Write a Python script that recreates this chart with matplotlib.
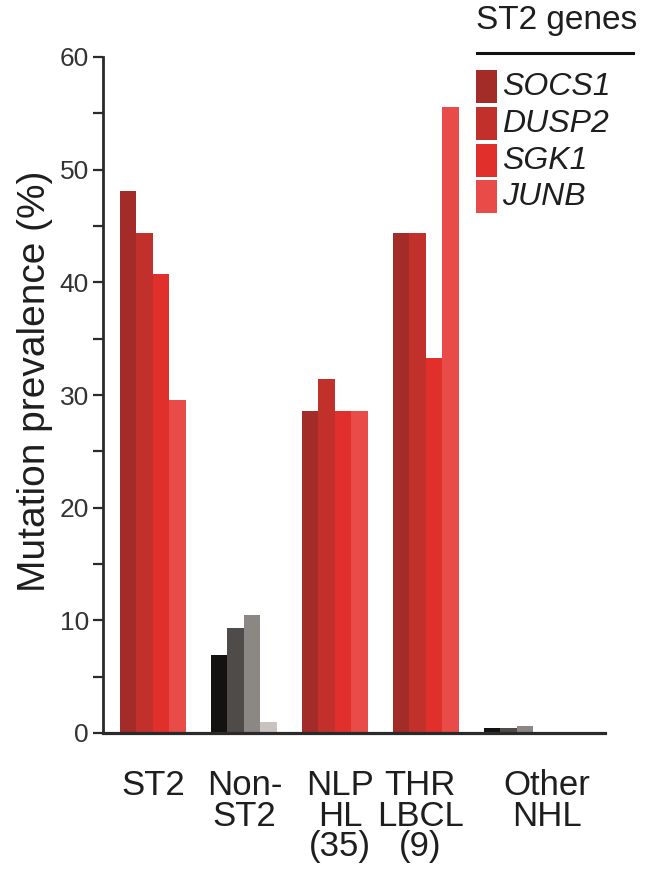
import matplotlib
matplotlib.use("Agg")
import matplotlib.pyplot as plt
from matplotlib.patches import Rectangle
from matplotlib.lines import Line2D
import numpy as np

plt.rcParams['font.family'] = ['Liberation Sans', 'DejaVu Sans']

# data (mutation prevalence, %)
groups = ["ST2", "Non-\nST2", "NLP\nHL\n(35)", "THR\nLBCL\n(9)", "Other\nNHL"]
genes = ["SOCS1", "DUSP2", "SGK1", "JUNB"]
st2 = [48.1, 44.4, 40.7, 29.6]
non_st2 = [6.9, 9.3, 10.5, 1.0]
nlphl = [28.6, 31.4, 28.6, 28.6]
thrlbcl = [44.4, 44.4, 33.3, 55.6]
other_nhl = [0.45, 0.4, 0.65, 0.0]
values = [st2, non_st2, nlphl, thrlbcl, other_nhl]

red_colors = ["#a32b28", "#c1302b", "#e1302b", "#e84b48"]
gray_colors = ["#141211", "#4e4b48", "#8b8783", "#c8c3be"]
group_colors = [red_colors, gray_colors, red_colors, red_colors, gray_colors]

fig = plt.figure(figsize=(6.48, 8.84), dpi=100)
ax = fig.add_axes([103/648, 1-733/884, 502/648, 676/884])

bar_w = 0.181
for i, (vals, cols) in enumerate(zip(values, group_colors)):
    x = i + bar_w/2 + np.arange(len(vals))*bar_w
    ax.bar(x, vals, width=bar_w, color=cols, linewidth=0)

ax.set_xlim(-0.187, 5.33)
ax.set_ylim(0, 60)

for s in ["top", "right"]:
    ax.spines[s].set_visible(False)
ax.spines["left"].set_linewidth(2)
ax.spines["bottom"].set_linewidth(2.3)
ax.spines["left"].set_color("#2a2a2a")
ax.spines["bottom"].set_color("#2a2a2a")

ax.set_yticks(np.arange(0, 61, 10))
ax.set_yticks(np.arange(5, 60, 10), minor=True)
ax.tick_params(axis="y", which="both", direction="out", length=7.2, width=1.6,
               color="#2a2a2a", labelsize=19, labelcolor="#333333", pad=3)

label_offsets = [0.36, 0.37, 0.42, 0.30, 0.69]
ax.set_xticks(np.arange(len(groups)) + np.array(label_offsets))
ax.set_xticklabels(groups, fontsize=25, color="#1e1e1e", linespacing=0.9,
                   multialignment="center")
ax.tick_params(axis="x", length=0, pad=26)

ax.set_ylabel("Mutation prevalence (%)", fontsize=28, color="#1e1e1e")
ax.yaxis.set_label_coords(-0.100, 0.52)

# legend drawn by hand
W, H = 648, 884
fig.text(557/W, 1-20/H, "ST2 genes", fontsize=24, color="#1e1e1e",
         ha="center", va="center")
fig.add_artist(Line2D([477/W, 633/W], [1-53/H, 1-53/H], color="#111111",
                      linewidth=2.2))
row_pitch = 36.8
for k, (g, c) in enumerate(zip(genes, red_colors)):
    top = 70 + k*row_pitch
    fig.add_artist(Rectangle((476/W, 1-(top+33)/H), 21/W, 33/H,
                             facecolor=c, edgecolor="none",
                             transform=fig.transFigure))
    fig.text(502/W, 1-(top+17)/H, g, fontsize=23, style="italic",
             color="#1e1e1e", ha="left", va="center")

fig.savefig("out.png", dpi=100)
